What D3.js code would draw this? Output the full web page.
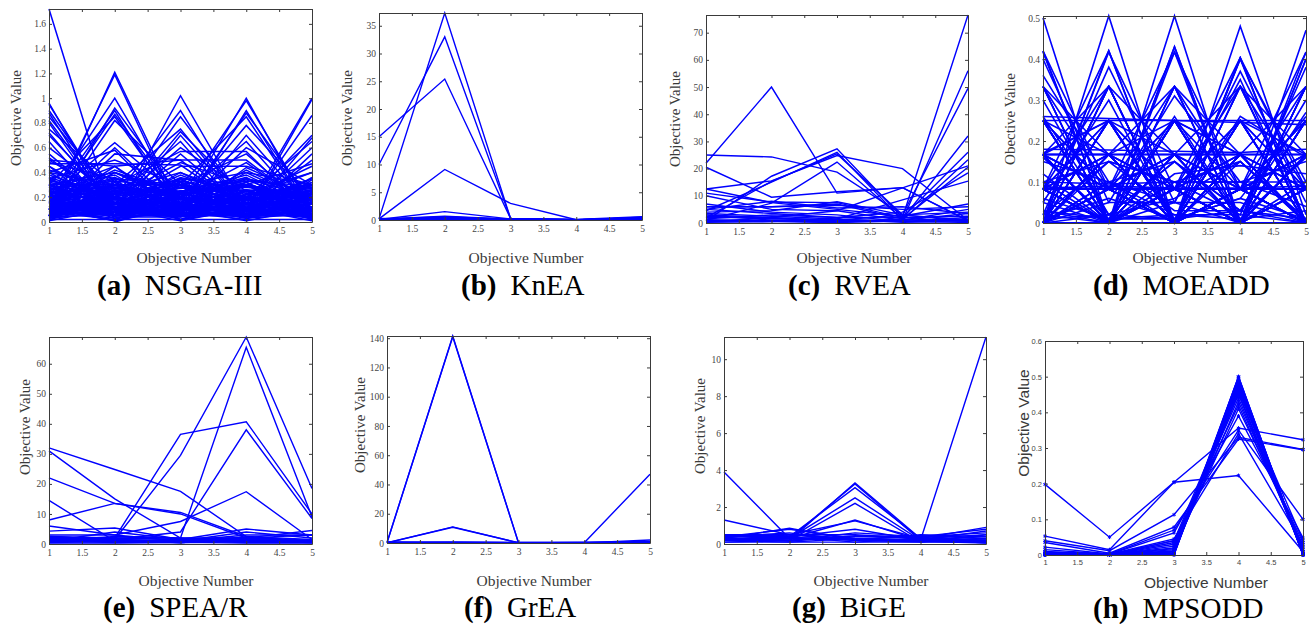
<!DOCTYPE html>
<html>
<head>
<meta charset="utf-8">
<script src="https://cdn.jsdelivr.net/npm/d3@7"></script>
<style>
  body { margin: 0; background: #fff; }
  svg { display: block; }
</style>
</head>
<body>
<script>
// objective index on the x axis, shared by every panel
var objectives = [1, 2, 3, 4, 5];
var xTicks = [1, 1.5, 2, 2.5, 3, 3.5, 4, 4.5, 5];

// y tick labels per panel
var nsga3Ticks = [0, 0.2, 0.4, 0.6, 0.8, 1, 1.2, 1.4, 1.6];
var kneaTicks = [0, 5, 10, 15, 20, 25, 30, 35];
var rveaTicks = [0, 10, 20, 30, 40, 50, 60, 70];
var moeaddTicks = [0, 0.1, 0.2, 0.3, 0.4, 0.5];
var spearTicks = [0, 10, 20, 30, 40, 50, 60];
var greaTicks = [0, 20, 40, 60, 80, 100, 120, 140];
var bigeTicks = [0, 2, 4, 6, 8, 10];
var mpsoddTicks = [0, 0.1, 0.2, 0.3, 0.4, 0.5, 0.6];

// (a) NSGA-III, one row = one solution (objectives 1..5)
var nsga3Lines = [
  [1.72,0.0,0.15,0.1,0.05],[0.96,0.05,0.2,0.1,0.15],[0.95,0.1,0.05,0.2,0.1],[0.9,0.15,0.1,0.05,0.2],
  [0.88,0.05,0.3,0.1,0.1],[0.85,0.2,0.05,0.1,0.05],[0.82,0.1,0.15,0.25,0.05],[0.8,0.05,0.1,0.1,0.3],
  [0.75,0.3,0.1,0.05,0.1],[0.72,0.1,0.2,0.1,0.2],[0.7,0.15,0.05,0.3,0.05],[0.65,0.05,0.25,0.15,0.1],
  [0.6,0.2,0.1,0.2,0.1],[0.55,0.1,0.3,0.05,0.2],[0.5,0.45,0.1,0.05,0.1],[0.47,0.47,0.46,0.1,0.05],
  [0.05,1.21,0.1,0.05,0.1],[0.1,1.19,0.05,0.1,0.05],[0.2,1.0,0.1,0.2,0.05],[0.05,0.92,0.2,0.1,0.1],
  [0.15,0.9,0.05,0.05,0.2],[0.1,0.87,0.15,0.2,0.05],[0.3,0.85,0.1,0.05,0.1],[0.05,0.82,0.3,0.1,0.05],
  [0.2,0.64,0.2,0.1,0.1],[0.1,0.6,0.1,0.3,0.05],[0.4,0.58,0.05,0.1,0.2],[0.05,0.55,0.5,0.5,0.1],
  [0.1,0.05,1.02,0.1,0.05],[0.05,0.2,0.9,0.05,0.1],[0.2,0.1,0.85,0.15,0.05],[0.1,0.3,0.75,0.1,0.1],
  [0.05,0.1,0.73,0.2,0.15],[0.15,0.05,0.7,0.1,0.3],[0.3,0.2,0.65,0.05,0.05],[0.1,0.15,0.6,0.25,0.1],
  [0.05,0.3,0.57,0.57,0.05],[0.2,0.1,0.55,0.1,0.2],[0.1,0.45,0.5,0.1,0.1],
  [0.05,0.1,0.1,1.0,0.05],[0.1,0.05,0.2,0.98,0.1],[0.2,0.15,0.05,0.9,0.05],[0.05,0.2,0.1,0.88,0.15],
  [0.1,0.1,0.3,0.85,0.05],[0.15,0.05,0.15,0.78,0.2],[0.3,0.1,0.05,0.7,0.1],[0.05,0.3,0.2,0.65,0.05],
  [0.1,0.2,0.1,0.6,0.3],[0.2,0.05,0.3,0.55,0.1],[0.05,0.15,0.45,0.45,0.3],
  [0.05,0.1,0.05,0.1,1.0],[0.1,0.05,0.1,0.05,0.99],[0.2,0.1,0.05,0.1,0.86],[0.05,0.2,0.1,0.15,0.7],
  [0.1,0.1,0.2,0.05,0.68],[0.15,0.05,0.05,0.2,0.65],[0.05,0.3,0.1,0.1,0.6],[0.3,0.1,0.15,0.05,0.55],
  [0.1,0.05,0.3,0.1,0.5],[0.05,0.15,0.1,0.3,0.47],
  [0.4,0.3,0.2,0.35,0.25],[0.35,0.1,0.4,0.2,0.3],[0.3,0.4,0.15,0.3,0.1],[0.25,0.2,0.35,0.1,0.35],
  [0.2,0.35,0.3,0.4,0.15],[0.45,0.15,0.25,0.3,0.2],[0.15,0.25,0.4,0.15,0.25],[0.3,0.3,0.3,0.25,0.05],
  [0.1,0.4,0.2,0.35,0.2],[0.38,0.2,0.1,0.4,0.3],[0.28,0.05,0.35,0.3,0.15],[0.2,0.28,0.15,0.2,0.4],
  [0.12,0.18,0.25,0.28,0.22],[0.32,0.22,0.28,0.12,0.18],[0.22,0.12,0.18,0.32,0.08],[0.08,0.32,0.12,0.22,0.28],
  [0.18,0.08,0.32,0.08,0.32],[0.42,0.25,0.2,0.15,0.35],[0.26,0.38,0.08,0.26,0.12],[0.14,0.14,0.38,0.18,0.26],
  [0.36,0.06,0.22,0.36,0.06],[0.06,0.26,0.06,0.06,0.36],[0.24,0.16,0.12,0.42,0.16],[0.16,0.42,0.24,0.08,0.24],
  [0.02,0.02,0.02,0.02,0.02],[0.03,0.08,0.04,0.09,0.03],[0.09,0.03,0.08,0.04,0.09],[0.5,0.2,0.05,0.15,0.1],
  [0.52,0.1,0.3,0.2,0.05],[0.48,0.35,0.2,0.05,0.15],[0.45,0.05,0.15,0.1,0.3],[0.35,0.5,0.3,0.2,0.1],
  [0.25,0.45,0.05,0.44,0.2],[0.1,0.2,0.48,0.3,0.2],[0.3,0.1,0.2,0.48,0.1],[0.2,0.25,0.1,0.2,0.45],
  [0.04,0.12,0.06,0.14,0.07],[0.13,0.05,0.11,0.03,0.12],[0.07,0.15,0.02,0.1,0.04],[0.11,0.01,0.14,0.06,0.15],
  [0.05,0.25,0.1,0.3,0.15],[0.25,0.05,0.3,0.1,0.25],[0.15,0.3,0.05,0.25,0.1],[0.3,0.15,0.25,0.05,0.3],
  [0.1,0.05,0.2,0.15,0.25],[0.2,0.1,0.05,0.25,0.15],[0.05,0.2,0.15,0.05,0.2],[0.15,0.15,0.2,0.1,0.05],
  [0.22,0.3,0.12,0.18,0.1],[0.12,0.22,0.3,0.06,0.18],[0.28,0.12,0.06,0.22,0.3],[0.06,0.28,0.22,0.3,0.06],
  [0.18,0.06,0.28,0.12,0.22],[0.34,0.18,0.14,0.06,0.12],[0.02,0.14,0.34,0.16,0.04],[0.16,0.34,0.02,0.14,0.32],
  [0.08,0.02,0.16,0.34,0.14],[0.14,0.1,0.08,0.02,0.34],[0.26,0.24,0.18,0.22,0.28],[0.24,0.26,0.22,0.18,0.02],
  [0.04,0.06,0.24,0.26,0.22],[0.3,0.04,0.04,0.3,0.04],[0.04,0.3,0.3,0.04,0.3],[0.2,0.2,0.02,0.2,0.2],
  [0.12,0.08,0.14,0.1,0.06],[0.07,0.13,0.09,0.15,0.11],[0.17,0.11,0.07,0.13,0.19],[0.03,0.19,0.13,0.07,0.15],
  [0.19,0.03,0.17,0.19,0.03],[0.11,0.17,0.19,0.03,0.07],[0.33,0.27,0.23,0.29,0.17],[0.27,0.33,0.29,0.17,0.23],
  [0.23,0.29,0.33,0.23,0.27],[0.29,0.23,0.27,0.33,0.29],[0.01,0.11,0.01,0.11,0.01],[0.11,0.01,0.11,0.01,0.11],
  [0.36,0.2,0.32,0.12,0.26],[0.2,0.36,0.12,0.32,0.08],[0.4,0.12,0.36,0.24,0.4],[0.12,0.4,0.24,0.38,0.12]
];

// (b) KnEA
var kneaLines = [
  [15,25.4,0.3,0.05,0.1],[10,33,0.3,0.05,0.2],[0.2,37.3,0.3,0.05,0.1],[0.2,9.1,3.0,0.05,0.1],
  [0.1,1.5,0.2,0.05,0.4],[0.1,0.6,0.1,0.02,0.5],[0.05,0.3,0.05,0.01,0.3],[0.3,0.2,0.1,0.05,0.2],
  [0.1,0.5,0.2,0.1,0.6],[0.2,0.4,0.05,0.05,0.1],[0.05,0.1,0.1,0.02,0.4],[0.15,0.7,0.15,0.03,0.25]
];

// (c) RVEA
var rveaLines = [
  [22,50,11,13,1],[25,24.3,18.7,3,0.5],[12.5,15.5,24.8,20,1],[20.5,9.5,11.5,13,0.8],
  [0.8,17.2,27.3,2,76.5],[4.5,15,26,1,56],[2,15.3,25.4,3,49.5],[1,7.3,22.4,1.5,32],
  [11,7.7,7.5,2,26],[10,5,4.5,1,23.3],[6,6,7,1.5,20.5],[3,2,4.5,12.9,21],
  [5,3.5,2,4,18.4],[3.5,2.5,1.5,8.5,15.4],[12.5,7.5,5,2.5,7],[6,6,6.5,5,6],
  [4,4.5,7.8,3,4],[2.5,1.5,1,1,3.5],[1.5,3,2,2,2.5],[0.5,1,0.5,0.5,1.5],
  [1,0.5,1.5,0.3,0.5],[2,2,0.5,1,5],[3,1,1,3,1],[7,4,3,0.5,2],
  [0.3,0.5,0.2,0.8,0.2],[5,8,5.5,6,3.5],[1.2,0.8,0.3,1.5,0.8],[0.6,1.8,1.2,0.6,1.2]
];

// (d) MOEADD
var moeaddLines = [
  [0.5,0,0,0,0],[0,0.505,0,0,0],[0,0,0.505,0,0],[0,0,0,0.48,0.02],[0.02,0,0,0,0.47],
  [0.42,0.083,0,0,0],[0.42,0,0.083,0,0],[0,0.42,0,0.083,0],[0.083,0.42,0,0,0],[0,0,0.43,0,0.083],
  [0.083,0,0.43,0,0],[0,0,0,0.4,0.1],[0,0.1,0,0.4,0],[0,0,0.083,0,0.4],[0.1,0,0,0,0.4],
  [0.417,0,0,0.083,0],[0,0.417,0.083,0,0],[0,0,0.417,0.083,0],[0,0.083,0.417,0,0],[0,0,0,0.403,0.083],
  [0.083,0,0,0.403,0],[0,0,0.083,0.403,0],[0.083,0,0,0,0.417],[0,0,0,0.083,0.417],
  [0.333,0.167,0,0,0],[0.333,0,0.083,0.083,0],[0,0.333,0.167,0,0],[0.083,0.333,0,0.083,0],[0,0,0.333,0.167,0],
  [0.167,0,0.333,0,0],[0,0.083,0,0.333,0.083],[0.167,0,0,0.333,0],[0,0,0.167,0,0.333],[0.083,0.083,0,0,0.333],
  [0.333,0,0,0.167,0],[0.333,0,0,0,0.167],[0,0.333,0,0,0.167],[0,0.333,0,0.167,0],[0.167,0.333,0,0,0],
  [0,0.167,0.333,0,0],[0,0,0.333,0,0.167],[0,0,0.167,0.333,0],[0,0,0,0.333,0.167],[0,0.167,0,0,0.333],
  [0.167,0,0,0,0.333],[0,0,0,0.167,0.333],
  [0.25,0.25,0,0,0],[0.25,0,0.25,0,0],[0.25,0.083,0,0.167,0],[0,0.25,0,0.25,0],[0,0.25,0.083,0,0.167],
  [0.083,0,0.25,0.167,0],[0,0.167,0.25,0,0.083],[0,0,0,0.25,0.25],[0.167,0,0,0.25,0.083],[0,0.083,0.167,0,0.25],
  [0.25,0,0,0,0.25],[0,0.25,0.25,0,0],[0,0,0.25,0.25,0],[0.25,0,0,0.25,0],[0,0.25,0,0,0.25],[0,0,0.25,0,0.25],
  [0.25,0.167,0.083,0,0],[0.25,0,0.083,0.167,0],[0.25,0,0,0.083,0.167],[0.167,0.25,0,0.083,0],[0,0.25,0.167,0.083,0],
  [0.083,0.25,0,0,0.167],[0.167,0,0.25,0,0.083],[0,0.083,0.25,0.167,0],[0.083,0,0.25,0,0.167],[0.167,0.083,0,0.25,0],
  [0,0,0.083,0.25,0.167],[0.083,0.167,0,0.25,0],[0.167,0,0.083,0,0.25],[0,0.167,0,0.083,0.25],[0.083,0,0.167,0,0.25],
  [0.167,0.167,0.167,0,0],[0.167,0.167,0,0.167,0],[0.167,0,0.167,0.167,0],[0,0.167,0.167,0.167,0],
  [0,0.167,0,0.167,0.167],[0.167,0,0.167,0,0.167],[0,0,0.167,0.167,0.167],[0.167,0.167,0,0,0.167],
  [0.167,0.167,0.083,0.083,0],[0.083,0.167,0.167,0,0.083],[0,0.083,0.167,0.167,0.083],[0.167,0,0.083,0.167,0.083],
  [0.083,0.083,0,0.167,0.167],[0.167,0.083,0.167,0,0.083],[0.083,0,0.167,0.083,0.167],
  [0.167,0.083,0.083,0.083,0.083],[0.083,0.167,0.083,0.083,0.083],[0.083,0.083,0.167,0.083,0.083],
  [0.083,0.083,0.083,0.167,0.083],[0.083,0.083,0.083,0.083,0.167],[0.25,0.083,0.083,0.083,0],
  [0,0.083,0.083,0.083,0.25],[0.083,0.25,0.083,0,0.083],[0.083,0,0.083,0.25,0.083],[0.083,0.083,0.25,0.083,0],
  [0.333,0.083,0,0,0.083],[0,0.083,0.333,0.083,0],[0.083,0,0,0.083,0.333],[0,0.333,0,0.083,0.083],[0.083,0,0.083,0.333,0],
  [0.26,0.255,0.25,0.245,0.24],[0.18,0.178,0.175,0.172,0.18],[0.085,0.09,0.085,0.085,0.09],[0.1,0.095,0.1,0.1,0.1],
  [0.36,0.1,0.02,0.02,0],[0.3,0.02,0.15,0.03,0],[0.4,0.05,0.05,0,0],[0.02,0.38,0.05,0.05,0],
  [0.05,0.3,0,0.15,0],[0,0.05,0.31,0.1,0.04],[0.03,0,0.05,0.37,0.05],[0,0.1,0.05,0.35,0],
  [0.05,0,0.1,0.02,0.38],[0,0.02,0.15,0.03,0.3],[0.02,0.15,0.03,0.03,0.27],[0.26,0.02,0.06,0.15,0.01],
  [0.17,0.25,0.01,0.06,0.01],[0.06,0.01,0.26,0.01,0.16],[0.01,0.06,0.01,0.26,0.16],[0.16,0.01,0.01,0.06,0.26],
  [0.1,0.15,0.1,0.15,0.0],[0.15,0.1,0.15,0.0,0.1],[0.0,0.15,0.1,0.1,0.15],[0.12,0.0,0.12,0.14,0.12],
  [0.01,0.02,0.01,0.03,0.01],[0.03,0.01,0.02,0.01,0.03]
];

// (e) SPEA/R
var spearLines = [
  [32,24.8,17.5,2.5,1],[31,15,2,1,0.5],[22,13.5,10,2,1],[14.5,1,1.5,2,1],
  [8,13.5,10.5,2.5,1.5],[6,3,7.5,17.4,1.5],[4.3,5.3,1.5,2,3],[2.5,2,36.5,40.7,10],
  [1.5,1.5,29.5,68.9,18.5],[1,2.5,2,65.5,9],[2,1.5,4,38,8.5],[1,4,1.5,5,3],
  [3,3,1,3,3],[2,1,1,4,2],[1,2,2,2,4.5],[2.5,1.5,1,1,0.5],
  [1.5,1,0.5,1.5,1],[0.5,0.8,1,0.5,0.5],[1,0.5,0.5,1,1],[2,2,1.5,1.5,1],
  [0.8,1.2,0.8,1.2,0.8],[1.8,0.6,1.2,0.8,1.4],[0.3,0.3,0.6,0.3,0.3],[2.2,1.8,0.4,2.4,0.6]
];

// (f) GrEA
var greaLines = [
  [0.3,141.5,0.2,0.1,0.2],[0.2,141,0.1,0.2,0.1],[0.1,11,0.2,0.1,0.5],[0.2,10.8,0.1,0.1,0.2],
  [0.1,0.2,0.1,0.2,47],[0.2,0.3,0.2,0.1,2],[0.1,0.5,0.3,0.2,1],[0.3,0.1,0.1,0.3,0.5],
  [0.5,0.4,0.2,0.1,0.3],[0.8,0.6,0.4,0.5,0.8]
];

// (g) BiGE
var bigeLines = [
  [3.9,0.3,0.2,0.15,0.1],[1.3,0.5,0.3,0.2,0.2],[0.3,0.85,0.2,0.3,0.9],[0.4,0.8,0.3,0.4,0.8],
  [0.2,0.2,3.3,0.3,0.2],[0.3,0.3,3.25,0.2,0.3],[0.2,0.4,3.05,0.3,0.1],[0.5,0.3,2.5,0.2,0.4],
  [0.3,0.2,2.2,0.1,0.3],[0.2,0.3,1.3,0.2,0.2],[0.4,0.5,1.25,0.3,0.1],[0.3,0.4,0.8,0.2,0.7],
  [0.1,0.2,0.6,0.4,0.6],[0.5,0.5,0.5,0.3,0.5],[0.2,0.1,0.3,0.2,11.2],[0.4,0.6,0.2,0.5,0.4],
  [0.1,0.1,0.1,0.1,0.1],[0.3,0.2,0.4,0.45,0.3],[0.5,0.4,0.1,0.3,0.05],[0.2,0.5,0.2,0.1,0.5],
  [0.35,0.15,0.45,0.35,0.15],[0.45,0.35,0.25,0.15,0.05]
];

// (h) MPSODD
var mpsoddLines = [
  [0.198,0.05,0.204,0.223,0.01],[0.053,0.015,0.204,0.356,0.323],[0.04,0.012,0.113,0.33,0.296],
  [0.035,0.005,0.078,0.325,0.295],[0.022,0.003,0.07,0.35,0.1],[0.015,0.002,0.062,0.39,0.048],
  [0.01,0.002,0.045,0.34,0.03],[0.005,0.001,0.04,0.42,0.02],[0.003,0.001,0.035,0.44,0.01],
  [0.002,0.001,0.03,0.45,0.005],[0.001,0.001,0.025,0.46,0.04],[0.008,0.002,0.02,0.47,0.005],
  [0.004,0.001,0.015,0.48,0.002],[0.002,0.001,0.01,0.49,0.003],[0.001,0,0.008,0.5,0.001],
  [0.006,0.002,0.005,0.495,0],[0.003,0.001,0.003,0.485,0.002],[0.001,0.001,0.002,0.475,0.001],
  [0,0,0.001,0.498,0],[0.002,0,0.012,0.43,0.025],[0.004,0.001,0.018,0.41,0.035],
  [0.001,0.001,0.04,0.465,0.015],[0.002,0,0.006,0.455,0.008],[0,0,0,0.5,0]
];

var serif = "'Liberation Serif', 'Times New Roman', serif";
var sans = "'Liberation Sans', Arial, sans-serif";

// layout of the 8 panels (pixel boxes, label anchors)
var panels = [
  {data: nsga3Lines, ticks: nsga3Ticks, tag: "(a)", name: "NSGA-III", box: [49, 312, 9, 222], lw: 1.5,
   ylab: "Objective Value", ylabPos: [21, 118], xlabPos: [194, 263], capPos: [97, 295]},
  {data: kneaLines, ticks: kneaTicks, tag: "(b)", name: "KnEA", box: [379, 642, 13, 220],
   ylab: "Objective Value", ylabPos: [352, 118], xlabPos: [526, 263], capPos: [461, 295]},
  {data: rveaLines, ticks: rveaTicks, tag: "(c)", name: "RVEA", box: [706, 968, 15, 223],
   ylab: "Objective Value", ylabPos: [680, 119], xlabPos: [854, 263], capPos: [788, 295]},
  {data: moeaddLines, ticks: moeaddTicks, tag: "(d)", name: "MOEADD", box: [1043, 1306, 16, 223], lw: 1.6,
   ylab: "Obective Value", ylabPos: [1015, 119], xlabPos: [1190, 263], capPos: [1093, 295]},
  {data: spearLines, ticks: spearTicks, tag: "(e)", name: "SPEA/R", box: [49, 312, 337, 544],
   ylab: "Objective Value", ylabPos: [30, 427], xlabPos: [196, 586], capPos: [103, 617]},
  {data: greaLines, ticks: greaTicks, tag: "(f)", name: "GrEA", box: [387, 650, 336, 543],
   ylab: "Objective Value", ylabPos: [365, 425], xlabPos: [534, 586], capPos: [464, 617]},
  {data: bigeLines, ticks: bigeTicks, tag: "(g)", name: "BiGE", box: [724, 986, 337, 544],
   ylab: "Objective Value", ylabPos: [705, 426], xlabPos: [871, 586], capPos: [792, 617]},
  {data: mpsoddLines, ticks: mpsoddTicks, tag: "(h)", name: "MPSODD", box: [1045, 1303, 341, 555],
   ylab: "Objective Value", ylabPos: [1029, 423], xlabPos: [1206, 588], capPos: [1093, 618],
   yMax: 0.6, sansFont: true, markers: true}
];

var svg = d3.select("body").append("svg").attr("width", 1314).attr("height", 624);

panels.forEach(function(p){
  var font = p.sansFont ? sans : serif;
  var tickSize = p.sansFont ? 7.5 : 9.5;
  var yMax = p.yMax || d3.max(p.data, function(r){ return d3.max(r); });
  var x = d3.scaleLinear().domain([1, 5]).range([p.box[0], p.box[1]]);
  var y = d3.scaleLinear().domain([0, yMax]).range([p.box[3], p.box[2]]);
  var g = svg.append("g");

  // polylines
  var line = d3.line().x(function(d, i){ return x(objectives[i]); }).y(function(d){ return y(d); });
  g.append("g").selectAll("path").data(p.data).enter().append("path")
    .attr("d", line).attr("fill", "none").attr("stroke", "#0000ff")
    .attr("stroke-width", p.lw || 1.4).attr("stroke-linejoin", "miter");

  if (p.markers) {
    var sym = d3.symbol().type(d3.symbolAsterisk).size(10);
    p.data.forEach(function(row){
      g.append("g").selectAll("path").data(row).enter().append("path")
        .attr("d", sym)
        .attr("transform", function(d, i){ return "translate(" + x(objectives[i]) + "," + y(d) + ")"; })
        .attr("fill", "none").attr("stroke", "#0000ff").attr("stroke-width", 1);
    });
  }

  // axes: ticks inside, box all around
  var fmt = function(v){ return String(+v.toFixed(2)); };
  var bottom = g.append("g").attr("transform", "translate(0," + p.box[3] + ")")
    .call(d3.axisBottom(x).tickValues(xTicks).tickSize(-3).tickSizeOuter(0).tickPadding(5).tickFormat(fmt));
  var left = g.append("g").attr("transform", "translate(" + p.box[0] + ",0)")
    .call(d3.axisLeft(y).tickValues(p.ticks).tickSize(-3).tickSizeOuter(0).tickPadding(3).tickFormat(fmt));
  var top = g.append("g").attr("transform", "translate(0," + p.box[2] + ")")
    .call(d3.axisTop(x).tickValues(xTicks).tickSize(-3).tickSizeOuter(0).tickFormat(""));
  var right = g.append("g").attr("transform", "translate(" + p.box[1] + ",0)")
    .call(d3.axisRight(y).tickValues(p.ticks).tickSize(-3).tickSizeOuter(0).tickFormat(""));
  [bottom, left, top, right].forEach(function(a){
    a.selectAll(".domain").attr("stroke", "#3a3a3a").attr("stroke-width", 1);
    a.selectAll(".tick line").attr("stroke", "#3a3a3a");
    a.selectAll("text").attr("fill", "#444").style("font-family", font).style("font-size", tickSize + "px");
  });

  // axis titles
  svg.append("text").attr("transform", "translate(" + p.ylabPos[0] + "," + p.ylabPos[1] + ") rotate(-90)")
    .attr("text-anchor", "middle").style("font-family", font).style("font-size", p.sansFont ? "15.5px" : "15px")
    .attr("fill", "#3a3a3a").text(p.ylab);
  svg.append("text").attr("x", p.xlabPos[0]).attr("y", p.xlabPos[1])
    .attr("text-anchor", "middle").style("font-family", font).style("font-size", "15.5px")
    .attr("fill", "#3a3a3a").text("Objective Number");

  // caption
  var cap = svg.append("text").attr("x", p.capPos[0]).attr("y", p.capPos[1])
    .style("font-family", serif).style("font-size", "29px").attr("fill", "#000");
  cap.append("tspan").style("font-weight", "bold").text(p.tag);
  cap.append("tspan").attr("dx", 14).text(p.name);
});
</script>
</body>
</html>
